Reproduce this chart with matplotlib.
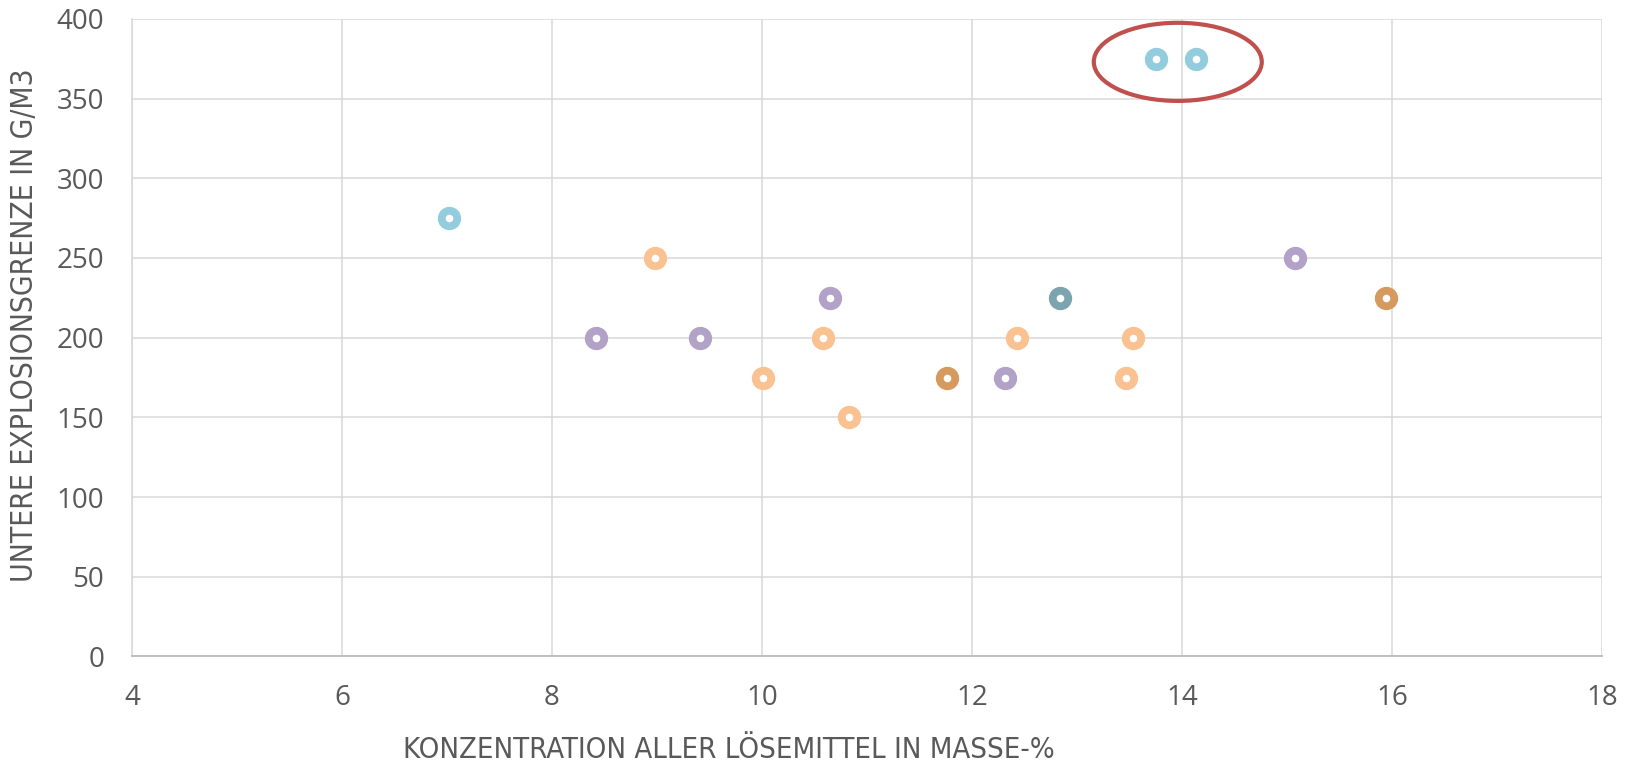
import matplotlib
matplotlib.use("Agg")
import matplotlib.pyplot as plt
from matplotlib.patches import Ellipse

# Lower explosion limit vs. total solvent concentration, grouped by sample series
series_names = ["Serie A", "Serie B", "Serie C", "Serie D", "Serie E"]
series_colors = ["#93CDDD", "#FAC191", "#B3A2C7", "#7BA4AE", "#D69A5F"]

conc_a = [7.02, 13.75, 14.13]
leg_a = [275, 375, 375]

conc_b = [8.98, 10.01, 10.58, 10.83, 12.43, 13.47, 13.53]
leg_b = [250, 175, 200, 150, 200, 175, 200]

conc_c = [8.42, 9.41, 10.65, 12.31, 15.08]
leg_c = [200, 200, 225, 175, 250]

conc_d = [12.84]
leg_d = [225]

conc_e = [11.76, 15.94]
leg_e = [175, 225]

x_ticks = [4, 6, 8, 10, 12, 14, 16, 18]
y_ticks = [0, 50, 100, 150, 200, 250, 300, 350, 400]

x_label = "KONZENTRATION ALLER LÖSEMITTEL IN MASSE-%"
y_label = "UNTERE EXPLOSIONSGRENZE IN G/M3"

# Highlight around the two outliers at 375 g/m3
highlight_center = (13.96, 373)
highlight_size = (1.6, 49)

fig = plt.figure(figsize=(16.34, 7.68), dpi=100)
ax = fig.add_axes([0.0808, 0.1452, 0.8996, 0.8303])

groups = [(conc_a, leg_a), (conc_b, leg_b), (conc_c, leg_c), (conc_d, leg_d), (conc_e, leg_e)]
for (xs, ys), name, col in zip(groups, series_names, series_colors):
    ax.plot(xs, ys, linestyle="none", marker="o", markersize=11.2,
            markerfacecolor="white", markeredgecolor=col, markeredgewidth=5.6,
            label=name, zorder=3)

ax.add_patch(Ellipse(highlight_center, highlight_size[0], highlight_size[1],
                     fill=False, edgecolor="#C0504D", linewidth=3.0, zorder=4,
                     clip_on=False))

ax.set_xlim(4, 18)
ax.set_ylim(0, 400)
ax.set_xticks(x_ticks)
ax.set_yticks(y_ticks)
ax.grid(True, color="#D9D9D9", linewidth=1.1)
ax.set_axisbelow(True)

for side in ("top", "right"):
    ax.spines[side].set_visible(False)
ax.spines["left"].set_color("#D9D9D9")
ax.spines["left"].set_linewidth(1.1)
ax.spines["bottom"].set_color("#BFBFBF")
ax.spines["bottom"].set_linewidth(1.4)

ax.tick_params(axis="both", length=0, labelsize=20, labelcolor="#595959")
ax.tick_params(axis="x", pad=20)
ax.tick_params(axis="y", pad=20)
for lbl in ax.get_xticklabels() + ax.get_yticklabels():
    lbl.set_family("Open Sans")

ax.set_xlabel(x_label, fontsize=21, color="#595959", family="DejaVu Sans",
              fontstretch="condensed", va="center", ha="center")
ax.xaxis.set_label_coords(0.406, -0.147)
ax.set_ylabel(y_label, fontsize=21.5, color="#595959", family="DejaVu Sans",
              fontstretch="condensed", va="center", ha="center")
ax.yaxis.set_label_coords(-0.0731, 0.519)

fig.savefig("out.png", dpi=100)
